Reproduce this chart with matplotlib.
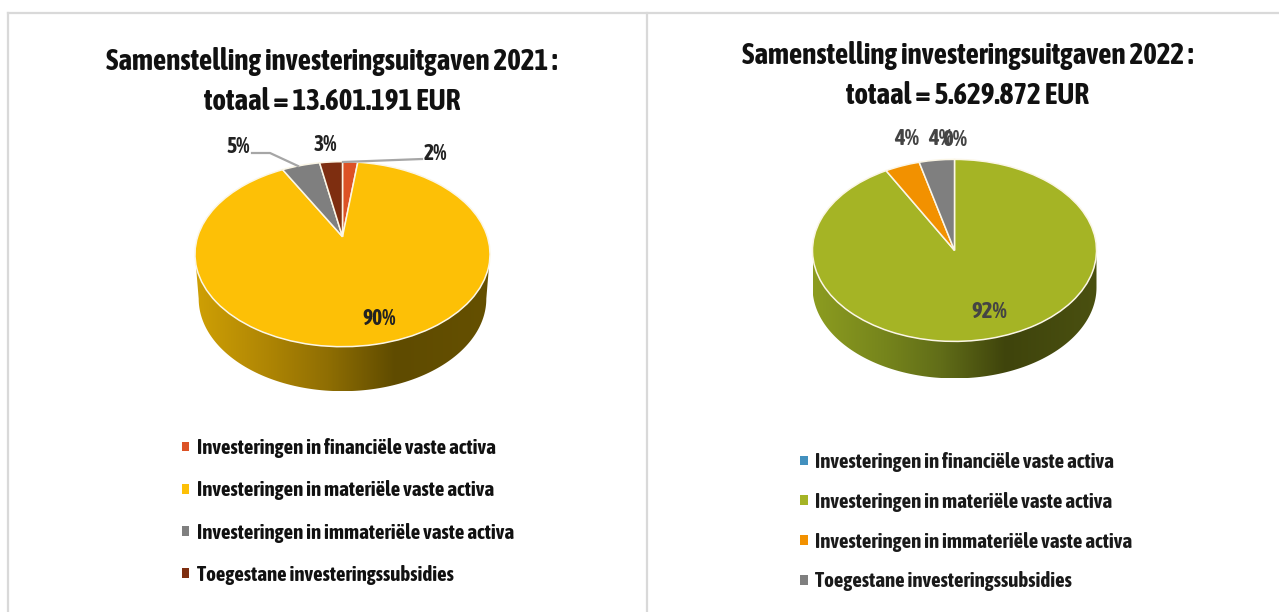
import numpy as np
import matplotlib
matplotlib.use('Agg')
import matplotlib.pyplot as plt
from matplotlib.patches import Patch, Polygon
from matplotlib.transforms import Transform
from matplotlib.colors import LinearSegmentedColormap

W, H = 1279, 612

categories = ['Investeringen in financiële vaste activa',
              'Investeringen in materiële vaste activa',
              'Investeringen in immateriële vaste activa',
              'Toegestane investeringssubsidies']

values_2021 = [2, 90, 5, 3]
values_2022 = [0, 92, 4, 4]
colors_2021 = ['#DC5226', '#FDC006', '#7F7F7F', '#7E2E10']
colors_2022 = ['#4290BE', '#A5B425', '#F29100', '#7F7F7F']
side_2021 = ['#CFA004', '#AE8504', '#8F6E03', '#5F4B00', '#655000']
side_2022 = ['#8C9C20', '#76851C', '#616D18', '#3F440C', '#4A5010']
side_stops = [0, 0.25, 0.45, 0.68, 1]

title_2021 = 'Samenstelling investeringsuitgaven 2021 :'
title_2022 = 'Samenstelling investeringsuitgaven 2022 :'
total_2021 = 'totaal = 13.601.191 EUR'
total_2022 = 'totaal = 5.629.872 EUR'

plt.rcParams['font.family'] = ['Asap Condensed', 'Open Sans', 'DejaVu Sans']
plt.rcParams['font.weight'] = 'bold'


# Tilts the unit circle so the centre of the pie sits off the middle of the ellipse
class Tilt(Transform):
    input_dims = 2
    output_dims = 2

    def __init__(self, a):
        super().__init__()
        self.a = a

    def transform_non_affine(self, values):
        x = values[:, 0]
        y = values[:, 1]
        d = 1 + self.a * y
        return np.column_stack([x * np.sqrt(1 - self.a ** 2) / d, (y + self.a) / d])


# Pixel box to figure fractions
def box(x0, y0, x1, y1):
    return [x0 / W, 1 - y1 / H, (x1 - x0) / W, (y1 - y0) / H]


def pie3d(fig, values, colors, side, cx, cy, rx, ry, depth, tilt, narrow):
    ax = fig.add_axes(box(cx - rx, cy - ry, cx + rx, cy + ry + depth))
    d = depth / ry
    t = np.linspace(np.pi, 2 * np.pi, 200)
    outline = np.concatenate([np.column_stack([np.cos(t), np.sin(t)]),
                              np.column_stack([narrow * np.cos(t[::-1]), np.sin(t[::-1]) - d])])
    cmap = LinearSegmentedColormap.from_list('side', list(zip(side_stops, side)))
    wall = Polygon(outline, closed=True, transform=ax.transData, fc='none', ec='none')
    ax.add_patch(wall)
    img = ax.imshow(np.linspace(0, 1, 256).reshape(1, -1), cmap=cmap, aspect='auto',
                    extent=(-1, 1, -1 - d, 0), zorder=1)
    img.set_clip_path(wall)
    wedges, _ = ax.pie(values, colors=colors, startangle=90, counterclock=False, radius=1,
                       wedgeprops={'edgecolor': '#FBF6E6', 'linewidth': 1.1, 'zorder': 2})
    for w in wedges:
        w.set_transform(Tilt(tilt) + ax.transData)
    ax.set_aspect('auto')
    ax.set_xlim(-1, 1)
    ax.set_ylim(-1 - d, 1)
    ax.axis('off')
    return ax


def legend(fig, colors, x, y, spacing, color):
    handles = [Patch(fc=c, ec='none') for c in colors]
    leg = fig.legend(handles, categories, loc='upper left', bbox_to_anchor=(x / W, 1 - y / H),
                     frameon=False, fontsize=15, handlelength=0.35, handleheight=0.35,
                     handletextpad=0.37, labelspacing=spacing, borderpad=0, borderaxespad=0)
    for t in leg.get_texts():
        t.set_color(color)


fig = plt.figure(figsize=(W / 100, H / 100), dpi=100, facecolor='white')

# panel borders
bg = fig.add_axes([0, 0, 1, 1])
bg.set_xlim(0, W)
bg.set_ylim(H, 0)
bg.axis('off')
bg.plot([8, W], [12.5, 12.5], color='#D9D9D9', lw=1.6)
bg.plot([8, 8], [12.5, H], color='#D9D9D9', lw=1.6)
bg.plot([646.5, 646.5], [12.5, H], color='#D9D9D9', lw=1.6)

bg.text(332, 62, title_2021, ha='center', va='center', fontsize=21, color='#111111')
bg.text(332, 102, total_2021, ha='center', va='center', fontsize=21, color='#111111')
bg.text(968, 56, title_2022, ha='center', va='center', fontsize=21, color='#111111')
bg.text(968, 95, total_2022, ha='center', va='center', fontsize=21, color='#111111')

pie3d(fig, values_2021, colors_2021, side_2021, 342.5, 254.2, 147.5, 92.5, 44.5, 0.189, 0.975)
pie3d(fig, values_2022, colors_2022, side_2022, 954.5, 250.4, 142, 91, 37, 0.0, 1.0)

# labels and leader lines go on top of the pies
top = fig.add_axes([0, 0, 1, 1])
top.set_xlim(0, W)
top.set_ylim(H, 0)
top.axis('off')
top.plot([252, 270, 298], [153, 153, 166], color='#A6A6A6', lw=1.6)
top.plot([343, 422], [162, 159], color='#A6A6A6', lw=1.6)

pos_2021 = [(435, 154), (379, 319), (238, 147), (325, 145)]
pos_2022 = [(955, 140), (989, 312), (907, 139), (941, 139)]
for v, (x, y) in zip(values_2021, pos_2021):
    top.text(x, y, f'{v}%', ha='center', va='center', fontsize=15.5, color='#222222')
for v, (x, y) in zip(values_2022, pos_2022):
    top.text(x, y, f'{v}%', ha='center', va='center', fontsize=16.5, color='#444444')

legend(fig, colors_2021, 181.7, 438, 1.07, '#111111')
legend(fig, colors_2022, 800.5, 452, 0.95, '#1A1A1A')

fig.savefig('out.png', dpi=100)
